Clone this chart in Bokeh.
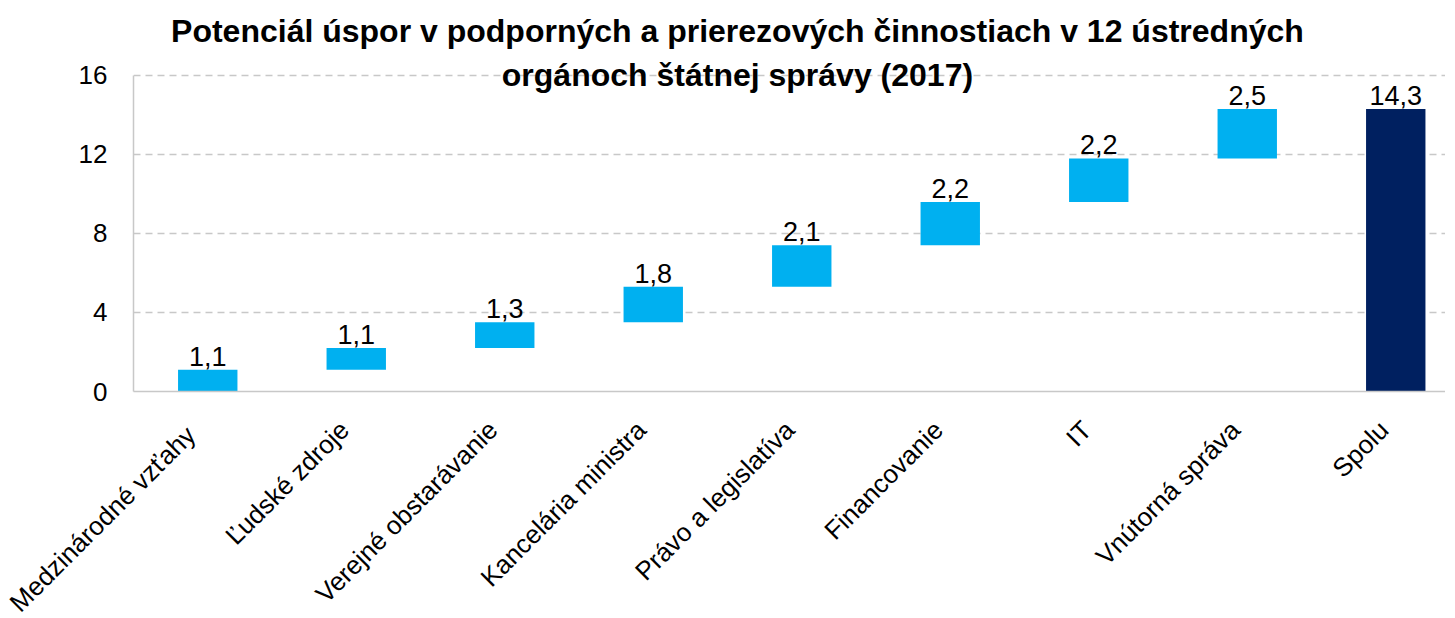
import math
import numpy as np
from bokeh.plotting import figure
from bokeh.models import Range1d, FixedTicker, Label, ColumnDataSource, LinearAxis
from bokeh.embed import file_html
from bokeh.resources import INLINE
from bokeh.core.properties import value

categories = ["Medzinárodné  vzťahy", "Ľudské zdroje", "Verejné obstarávanie",
              "Kancelária ministra", "Právo a legislatíva", "Financovanie", "IT",
              "Vnútorná správa", "Spolu"]
increments = [1.1, 1.1, 1.3, 1.8, 2.1, 2.2, 2.2, 2.5]
total = 14.3
value_labels = ["1,1", "1,1", "1,3", "1,8", "2,1", "2,2", "2,2", "2,5", "14,3"]
y_ticks = [0, 4, 8, 12, 16]
title_lines = ["Potenciál úspor v podporných a prierezových činnostiach v 12 ústredných",
               "orgánoch štátnej správy (2017)"]

FONT = "Liberation Sans, Arial, sans-serif"

x = [i + 0.5 for i in range(len(categories))]
tops_inc = np.cumsum(increments)
bottoms_inc = np.concatenate([[0.0], tops_inc[:-1]])
bottoms = list(bottoms_inc) + [0.0]
tops = list(tops_inc) + [total]
colors = ["#00B0F0"] * len(increments) + ["#002060"]

src = ColumnDataSource(dict(x=x, bottom=bottoms, top=tops, color=colors, lab=value_labels))

p = figure(frame_width=1312, frame_height=386, output_backend="svg", toolbar_location=None,
           min_border_left=133, min_border_top=5, min_border_bottom=220, min_border_right=0,
           x_range=Range1d(0, 8.835), y_range=Range1d(0, 19.544))
p.outline_line_color = None
p.background_fill_color = "white"
p.border_fill_color = "white"

p.vbar(x="x", width=0.4, bottom="bottom", top="top", fill_color="color", line_color=None, source=src)
p.text(x="x", y="top", text="lab", source=src, text_align="center", text_baseline="bottom",
       y_offset=-4, text_font=value(FONT), text_font_size="27px", text_color="black")

p.xgrid.grid_line_color = None
p.ygrid.ticker = FixedTicker(ticks=y_ticks)
p.ygrid.grid_line_color = "#C8C8C8"
p.ygrid.grid_line_dash = "7 5"
p.ygrid.grid_line_width = 1.5

p.yaxis.ticker = FixedTicker(ticks=y_ticks)
p.yaxis.bounds = (y_ticks[0], y_ticks[-1])
p.yaxis.axis_line_color = "#C8C8C8"
p.yaxis.axis_line_width = 1.5
p.yaxis.major_tick_line_color = None
p.yaxis.minor_tick_line_color = None
p.yaxis.major_tick_out = 0
p.yaxis.major_label_standoff = 26
p.yaxis.major_label_text_font = FONT
p.yaxis.major_label_text_font_size = "26px"
p.yaxis.major_label_text_color = "black"

# hide default x axis; use a slightly shifted label axis so rotated labels end left of bar centres
p.xaxis.visible = False
p.extra_x_ranges = {"lab": Range1d(0.08, 8.915)}
xax = LinearAxis(x_range_name="lab")
xax.ticker = FixedTicker(ticks=x)
xax.major_label_overrides = {xi: c for xi, c in zip(x, categories)}
xax.major_label_orientation = math.pi / 4
xax.axis_line_color = "#C8C8C8"
xax.axis_line_width = 1.5
xax.major_tick_line_color = None
xax.minor_tick_line_color = None
xax.major_tick_out = 0
xax.major_label_standoff = 34
xax.major_label_text_font = FONT
xax.major_label_text_font_size = "26px"
xax.major_label_text_color = "black"
p.add_layout(xax, "below")

p.add_layout(Label(x=4.067, y=18.25, text=title_lines[0], text_align="center", text_baseline="middle",
                   text_font=FONT, text_font_size="32px", text_font_style="bold", text_color="black"))
p.add_layout(Label(x=4.067, y=16.05, text=title_lines[1], text_align="center", text_baseline="middle",
                   text_font=FONT, text_font_size="32px", text_font_style="bold", text_color="black"))

open("out.html", "w").write(file_html(p, INLINE))
